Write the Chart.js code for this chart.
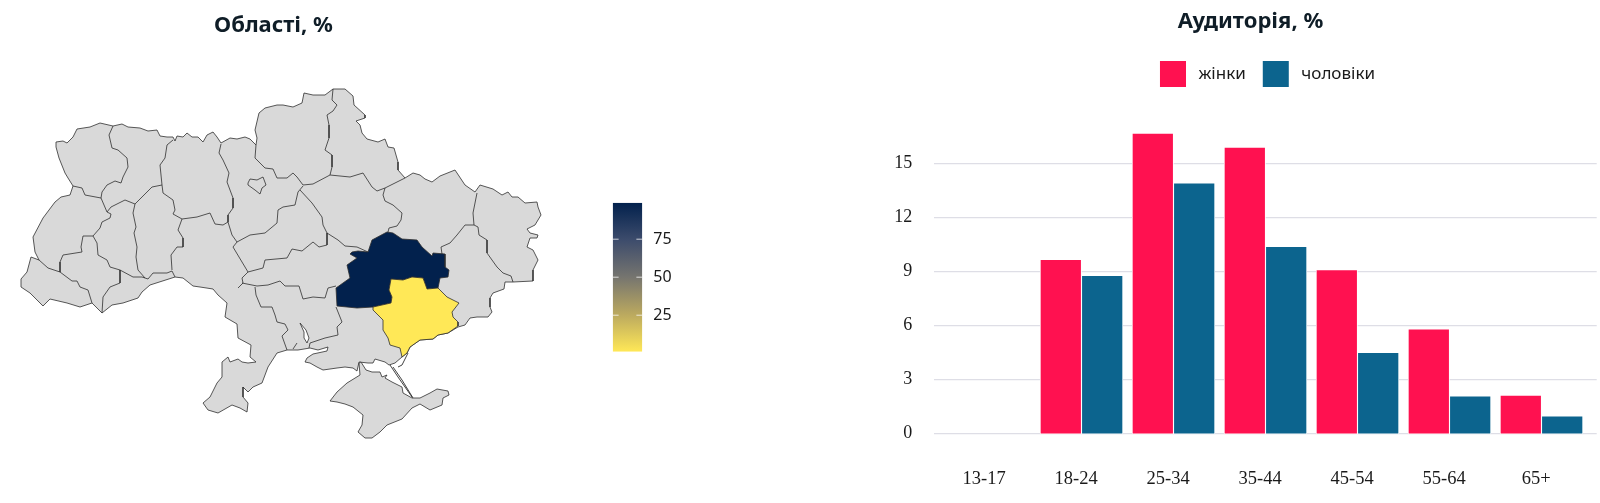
<!DOCTYPE html>
<html lang="uk">
<head>
<meta charset="utf-8">
<title>Області та аудиторія</title>
<script src="https://cdn.jsdelivr.net/npm/chart.js@4/dist/chart.umd.min.js"></script>
<style>
  html, body { margin: 0; background: #fff; overflow: hidden; }
  canvas { position: absolute; }
  #mapChart { left: 0; top: 0; }
  #scaleChart { left: 600px; top: 190px; }
  #audienceChart { left: 860px; top: 0; }
</style>
</head>
<body>
<canvas id="mapChart" width="547" height="503"></canvas>
<canvas id="scaleChart" width="90" height="175"></canvas>
<canvas id="audienceChart" width="740" height="503"></canvas>
<script>
// audience
const ageGroups = ['13-17', '18-24', '25-34', '35-44', '45-54', '55-64', '65+'];
const women = [null, 9.67, 16.7, 15.92, 9.1, 5.81, 2.12];
const men = [null, 8.79, 13.93, 10.4, 4.5, 2.08, 0.96];
const audienceTicks = [0, 3, 6, 9, 12, 15];

// colour scale
const scaleTicks = [25, 50, 75];
const scaleRange = [1, 99];
const scaleColors = ['#ffe857', '#bba95f', '#76756f', '#3d4c6c', '#02214d'];

// map outline, in map units
const ukraine = [[56,142],[63,141],[67,143],[73,137],[77,129],[90,127],[100,123],[113,126],[122,124],[128,127],[140,128],[148,131],[157,130],[160,136],[167,137],[173,137],[175,141],[177,136],[183,137],[187,133],[192,137],[198,137],[203,142],[207,135],[213,132],[217,137],[221,143],[230,138],[237,139],[245,137],[250,139],[256,145],[257,138],[255,130],[259,113],[265,108],[277,105],[283,105],[293,107],[302,103],[304,93],[313,95],[325,95],[333,89],[345,89],[353,96],[354,105],[365,115],[365,118],[356,121],[360,125],[362,133],[367,139],[378,142],[385,139],[388,147],[394,148],[398,162],[398,170],[405,178],[413,173],[420,175],[425,179],[432,182],[440,176],[455,170],[465,185],[475,192],[480,185],[493,189],[502,195],[508,192],[512,197],[518,197],[525,203],[537,202],[538,207],[541,215],[535,225],[527,229],[530,233],[538,235],[537,238],[530,238],[527,247],[533,250],[538,260],[533,270],[533,281],[513,282],[505,282],[504,289],[493,293],[490,298],[490,307],[492,312],[488,317],[477,317],[470,318],[465,325],[458,327],[448,333],[438,335],[433,339],[420,340],[410,347],[407,353],[402,357],[395,363],[389,365],[385,362],[375,359],[373,363],[368,363],[359,362],[357,371],[353,368],[345,367],[337,368],[323,370],[317,367],[310,363],[305,362],[307,358],[313,354],[327,351],[328,347],[318,350],[310,348],[298,350],[287,350],[277,353],[268,367],[262,383],[253,387],[248,392],[243,387],[243,397],[248,403],[247,412],[240,408],[232,405],[218,413],[208,410],[203,403],[210,397],[217,383],[222,377],[222,362],[228,357],[230,362],[238,359],[242,362],[248,363],[256,362],[250,357],[251,345],[238,338],[237,324],[225,317],[227,303],[218,295],[213,289],[200,287],[193,286],[183,278],[175,277],[150,285],[142,292],[138,298],[123,303],[112,305],[102,313],[97,308],[92,303],[80,307],[67,303],[50,299],[43,306],[37,300],[30,293],[21,287],[21,279],[27,272],[31,257],[39,260],[35,252],[33,237],[43,218],[55,202],[61,197],[70,195],[73,186],[68,178],[65,173],[59,158],[56,147],[56,142]];
const crimea = [[330,401],[337,392],[347,383],[360,375],[359,363],[361,362],[366,370],[372,372],[380,372],[382,377],[387,375],[385,378],[392,382],[402,387],[403,393],[412,398],[420,398],[430,393],[437,389],[448,391],[449,395],[443,398],[442,405],[430,410],[420,404],[412,408],[402,419],[387,425],[380,432],[372,438],[365,438],[358,432],[362,425],[363,415],[353,407],[345,404],[337,402],[330,401]];
const kyivCity = [[248,183],[250,179],[257,180],[263,177],[266,185],[262,188],[260,194],[255,190],[248,185],[248,183]];
const bugEstuary = [[300,323],[306,330],[309,338],[307,343],[304,338],[304,332],[300,323]];

// borders between oblasts
const innerBorders = [
  [[113,126],[109,135],[112,148],[118,150],[127,158],[128,167],[123,177],[121,183],[115,181],[107,185],[102,192],[101,198]],
  [[73,186],[82,188],[85,195],[101,198]],
  [[101,198],[107,212],[111,214],[110,218],[102,222],[100,228],[93,236],[83,236],[81,247],[82,252],[63,255],[60,262],[60,272]],
  [[39,260],[48,268],[60,272],[72,281],[77,281],[80,287],[88,290],[92,303]],
  [[93,236],[97,243],[98,255],[107,260],[110,267],[120,270],[120,283],[110,287],[103,297],[102,313]],
  [[120,270],[133,277],[142,277],[148,279],[153,273],[167,273],[172,271],[175,277]],
  [[107,212],[111,207],[125,200],[135,204],[147,192],[152,187],[162,185]],
  [[173,140],[167,145],[165,158],[160,165],[162,185],[163,193],[173,200],[175,210],[173,214],[182,219]],
  [[135,204],[133,213],[136,227],[134,233],[137,247],[136,257],[138,270],[145,278]],
  [[182,219],[178,230],[183,238],[183,247],[177,247],[171,255],[172,270]],
  [[182,219],[197,217],[210,213],[215,224],[223,225],[228,222]],
  [[221,144],[219,153],[223,160],[229,173],[227,182],[233,198],[233,208],[228,215],[228,222],[232,235],[237,242],[233,247],[248,272],[242,278],[243,283],[238,288]],
  [[237,242],[250,235],[265,233],[277,223],[278,210],[283,207],[295,205],[298,192],[303,186]],
  [[256,145],[255,158],[265,168],[273,169],[277,178],[287,178],[293,173],[297,177],[303,185],[313,184],[330,175],[350,177],[363,173],[372,187],[377,191],[385,188],[405,178]],
  [[300,190],[312,203],[322,217],[323,225],[327,233],[327,245],[319,247],[313,242],[302,251],[292,249],[287,258],[265,260],[263,268],[248,272]],
  [[327,233],[338,240],[345,246],[357,247],[368,252]],
  [[242,283],[257,286],[268,285],[280,281],[285,286],[299,286],[303,299],[313,297],[325,298],[328,288],[336,286]],
  [[255,287],[256,295],[261,307],[272,307],[275,315],[277,322],[285,324],[288,330],[282,336],[287,350]],
  [[336,307],[342,322],[337,327],[338,335],[325,338],[310,343],[309,348]],
  [[297,343],[293,349]],
  [[385,188],[383,195],[385,201],[393,205],[402,213],[401,220],[397,226],[389,228],[388,232]],
  [[333,89],[332,100],[337,105],[333,111],[327,115],[329,125],[329,138],[325,150],[332,155],[332,167],[330,175]],
  [[477,193],[473,213],[474,225],[465,225],[457,235],[450,243],[441,247],[442,254]],
  [[474,225],[478,227],[479,235],[487,240],[487,253],[497,267],[503,273],[511,276],[513,282]]
];
const spits = [
  [[408,353],[402,365],[398,367]],
  [[390,365],[398,377],[405,387],[412,397]],
  [[393,367],[402,380],[413,398]]
];

// oblasts with data
const dnipropetrovsk = [[336,288],[350,278],[347,265],[357,258],[350,254],[352,252],[358,251],[368,252],[372,240],[387,232],[393,233],[402,239],[417,240],[422,247],[432,256],[433,253],[445,254],[445,267],[449,270],[448,277],[440,278],[438,288],[427,289],[423,278],[412,277],[403,280],[391,279],[389,290],[392,297],[391,303],[373,307],[357,308],[337,306],[336,288]];
const zaporizhzhia = [[391,279],[403,280],[412,277],[423,278],[427,289],[438,288],[447,297],[459,303],[452,312],[453,317],[458,322],[458,326],[448,333],[438,335],[433,339],[420,340],[410,347],[407,353],[402,357],[400,348],[390,345],[388,338],[383,330],[383,320],[373,310],[373,307],[391,303],[392,297],[389,290],[391,279]];
const dniproValue = 99;
const zaporizhzhiaValue = 1;

const titleColor = '#0f1d27';
const textColor = '#1a1a1a';
const noData = '#d9d9d9';
const mapLine = '#2e2e2e';

function toPoints(list) {
  return list.map(p => ({ x: p[0], y: p[1] }));
}

function hexToRgb(hex) {
  return [1, 3, 5].map(i => parseInt(hex.slice(i, i + 2), 16));
}

function colorFor(value) {
  const t = (value - scaleRange[0]) / (scaleRange[1] - scaleRange[0]) * (scaleColors.length - 1);
  const i = Math.min(Math.floor(t), scaleColors.length - 2);
  const a = hexToRgb(scaleColors[i]);
  const b = hexToRgb(scaleColors[i + 1]);
  const c = a.map((v, k) => Math.round(v + (b[k] - v) * (t - i)));
  return `rgb(${c.join(',')})`;
}

function area(list, color, width) {
  return {
    data: toPoints(list),
    showLine: true,
    fill: 'shape',
    backgroundColor: color,
    borderColor: mapLine,
    borderWidth: width || 0.8,
    pointRadius: 0,
    tension: 0
  };
}

function border(list, width) {
  return {
    data: toPoints(list),
    showLine: true,
    fill: false,
    borderColor: mapLine,
    borderWidth: width || 0.8,
    pointRadius: 0,
    tension: 0
  };
}

Chart.defaults.animation = false;
Chart.defaults.responsive = false;

// first dataset is painted last
new Chart(document.getElementById('mapChart'), {
  type: 'scatter',
  data: {
    datasets: [
      area(zaporizhzhia, colorFor(zaporizhzhiaValue)),
      area(dnipropetrovsk, colorFor(dniproValue)),
      ...spits.map(s => border(s, 0.9)),
      area(bugEstuary, '#ffffff'),
      area(kyivCity, noData),
      ...innerBorders.map(b => border(b)),
      area(crimea, noData),
      area(ukraine, noData)
    ]
  },
  options: {
    layout: { padding: 0 },
    plugins: {
      legend: { display: false },
      tooltip: { enabled: false },
      title: {
        display: true,
        text: 'Області, %',
        color: titleColor,
        font: { family: '"Noto Sans"', size: 22, weight: '700' },
        padding: { top: 13, bottom: 0 }
      }
    },
    scales: {
      x: { type: 'linear', display: false, min: 0, max: 547 },
      y: { type: 'linear', display: false, min: 39.4, max: 503, reverse: true }
    }
  }
});

// colour bar
const barTicks = scaleTicks.flatMap(v => [
  border([[0, v], [0.2, v]], 1),
  border([[0.8, v], [1, v]], 1)
]);
barTicks.forEach(d => { d.borderColor = 'rgba(255,255,255,0.75)'; });

new Chart(document.getElementById('scaleChart'), {
  type: 'scatter',
  data: {
    datasets: [
      ...barTicks,
      {
        data: toPoints([[0, scaleRange[0]], [1, scaleRange[0]], [1, scaleRange[1]], [0, scaleRange[1]]]),
        showLine: true,
        fill: 'shape',
        borderWidth: 0,
        pointRadius: 0,
        backgroundColor: ctx => {
          const { ctx: c, scales } = ctx.chart;
          const y0 = scales.y ? scales.y.getPixelForValue(scaleRange[0]) : NaN;
          const y1 = scales.y ? scales.y.getPixelForValue(scaleRange[1]) : NaN;
          if (!isFinite(y0) || !isFinite(y1)) return scaleColors[0];
          const g = c.createLinearGradient(0, y0, 0, y1);
          scaleColors.forEach((col, i) => g.addColorStop(i / (scaleColors.length - 1), col));
          return g;
        }
      }
    ]
  },
  options: {
    layout: { padding: { left: 12.7, top: 12.7, bottom: 13.3, right: 0 } },
    plugins: { legend: { display: false }, tooltip: { enabled: false } },
    scales: {
      x: { type: 'linear', display: false, min: 0, max: 1 },
      y: {
        type: 'linear',
        position: 'right',
        min: scaleRange[0],
        max: scaleRange[1],
        afterBuildTicks: s => { s.ticks = scaleTicks.map(value => ({ value })); },
        afterFit: s => { s.width = 47.7; s.paddingTop = 0; s.paddingBottom = 0; },
        grid: { display: false },
        border: { display: false },
        ticks: { color: textColor, padding: 3, font: { family: '"Noto Sans"', size: 16 } }
      }
    }
  }
});

// audience bars, on a linear x so the axis can run past the first and last group
function barSeries(label, values, color) {
  return {
    label,
    data: values.map((v, i) => ({ x: i, y: v })),
    backgroundColor: color,
    borderColor: '#ffffff',
    borderWidth: 0.9,
    borderSkipped: false,
    base: -0.04,
    barThickness: 41.4
  };
}

// tick labels are clipped to the axis box, and the box has to stay narrow to keep the title centred
const openTickBox = {
  id: 'openTickBox',
  afterLayout(chart) {
    chart.scales.y.left = 0;
  }
};

new Chart(document.getElementById('audienceChart'), {
  type: 'bar',
  plugins: [openTickBox],
  data: {
    datasets: [
      barSeries('жінки', women, '#ff1150'),
      barSeries('чоловіки', men, '#0c648e')
    ]
  },
  options: {
    layout: { padding: { left: 44.3, right: 3.3 } },
    plugins: {
      tooltip: { enabled: false },
      title: {
        display: true,
        text: 'Аудиторія, %',
        color: titleColor,
        font: { family: '"Noto Sans"', size: 22, weight: '700' },
        padding: { top: 8.6, bottom: 9 }
      },
      legend: {
        position: 'top',
        fullSize: false,
        labels: {
          boxWidth: 34,
          boxHeight: 34,
          padding: 13,
          color: textColor,
          font: { family: '"Noto Sans"', size: 17 },
          // white frame trims the swatch to 26px and keeps the gap before the text
          generateLabels: chart => Chart.defaults.plugins.legend.labels.generateLabels(chart)
            .map(item => ({ ...item, lineWidth: 8, strokeStyle: '#ffffff' }))
        }
      }
    },
    scales: {
      x: {
        type: 'linear',
        offset: false,
        min: -0.6,
        max: 6.6,
        afterBuildTicks: s => { s.ticks = ageGroups.map((_, value) => ({ value })); },
        afterFit: s => { s.height = 67.9; },
        grid: { display: false, offset: false },
        border: { display: false },
        ticks: {
          color: textColor,
          padding: 25,
          labelOffset: -5.3,
          autoSkip: false,
          maxRotation: 0,
          font: { family: '"Liberation Serif"', size: 18.5 },
          callback: value => ageGroups[value]
        }
      },
      y: {
        type: 'linear',
        min: -0.1,
        max: 18.49,
        afterBuildTicks: s => { s.ticks = audienceTicks.map(value => ({ value })); },
        afterFit: s => { s.width = 30; },
        grid: { color: '#dedee6', lineWidth: 1.3, drawTicks: false },
        border: { display: false },
        ticks: { color: textColor, padding: 22, font: { family: '"Liberation Serif"', size: 18 } }
      }
    }
  }
});
</script>
</body>
</html>
